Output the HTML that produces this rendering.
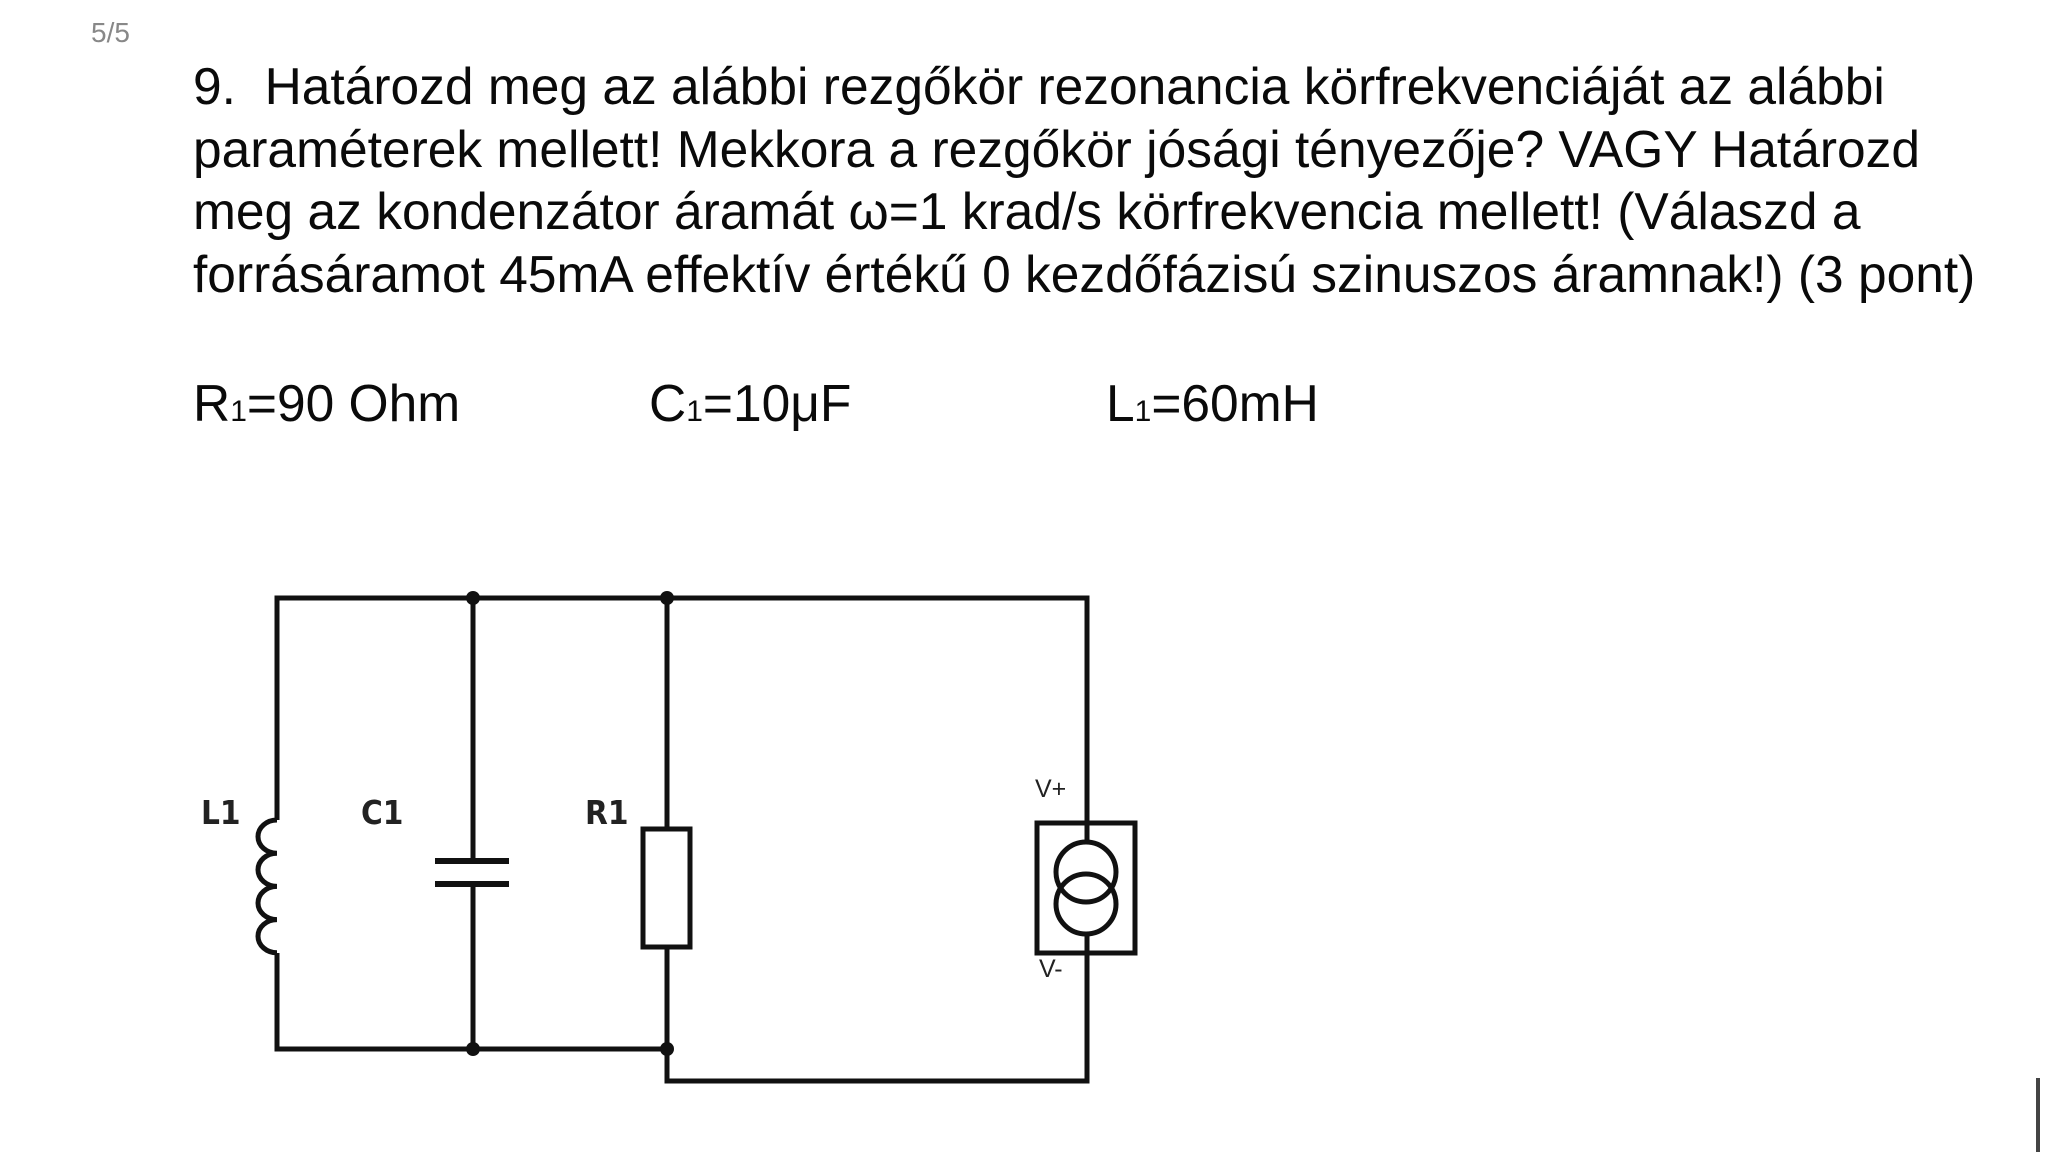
<!DOCTYPE html>
<html><head><meta charset="utf-8"><style>
html,body{margin:0;padding:0;background:#fff;}
body{width:2048px;height:1164px;position:relative;overflow:hidden;font-family:"Liberation Sans",sans-serif;}
.t{position:absolute;left:193px;font-size:51.5px;color:#0a0a0a;white-space:nowrap;line-height:62.7px;}
</style></head><body>
<div style="position:absolute;left:91px;top:17px;font-size:28px;color:#888;">5/5</div>
<div class="t" style="top:55px;">9.&nbsp; Határozd meg az alábbi rezgőkör rezonancia körfrekvenciáját az alábbi<br>paraméterek mellett! Mekkora a rezgőkör jósági tényezője? VAGY Határozd<br>meg az kondenzátor áramát ω=1 krad/s körfrekvencia mellett! (Válaszd a<br>forrásáramot 45mA effektív értékű 0 kezdőfázisú szinuszos áramnak!) (3 pont)</div>
<div class="t" style="top:372px;">R<span style="font-size:30px">1</span>=90 Ohm</div>
<div class="t" style="top:372px;left:649px;">C<span style="font-size:30px">1</span>=10μF</div>
<div class="t" style="top:372px;left:1106px;">L<span style="font-size:30px">1</span>=60mH</div>
<svg width="2048" height="1164" style="position:absolute;left:0;top:0">
<g stroke="#111" stroke-width="5" fill="none">
<polyline points="277,820 277,598 1087,598 1087,823"/>
<polyline points="277,953 277,1049 667,1049"/>
<polyline points="667,1049 667,1081 1087,1081 1087,953"/>
<line x1="473" y1="598" x2="473" y2="861"/>
<line x1="473" y1="884" x2="473" y2="1049"/>
<line x1="667" y1="598" x2="667" y2="829"/>
<line x1="667" y1="947" x2="667" y2="1049"/>
<path d="M277,820 a19,16.6 0 0 0 0,33.2 a19,16.6 0 0 0 0,33.2 a19,16.6 0 0 0 0,33.2 a19,16.6 0 0 0 0,33.2"/>
<rect x="643" y="829" width="47" height="118"/>
<rect x="1037" y="823" width="98" height="130"/>
<line x1="1087" y1="823" x2="1087" y2="841"/>
<line x1="1087" y1="934" x2="1087" y2="953"/>
<circle cx="1086" cy="872" r="30"/>
<circle cx="1086" cy="904" r="30"/>
</g>
<g stroke="#111" stroke-width="6">
<line x1="435" y1="861" x2="509" y2="861"/>
<line x1="435" y1="884" x2="509" y2="884"/>
</g>
<g fill="#111">
<circle cx="473" cy="598" r="7"/><circle cx="667" cy="598" r="7"/>
<circle cx="473" cy="1049" r="7"/><circle cx="667" cy="1049" r="7"/>
</g>
<g font-family="'DejaVu Sans Condensed','Liberation Sans',sans-serif" font-weight="bold" font-size="33" fill="#222">
<text x="201" y="824">L1</text><text x="361" y="824">C1</text><text x="585" y="824">R1</text>
</g>
<g font-family="'Liberation Sans',sans-serif" font-size="25" fill="#222">
<text x="1035" y="797">V+</text><text x="1039" y="977">V-</text>
</g>
<line x1="2038" y1="1078" x2="2038" y2="1152" stroke="#444" stroke-width="4"/>
</svg>
</body></html>
